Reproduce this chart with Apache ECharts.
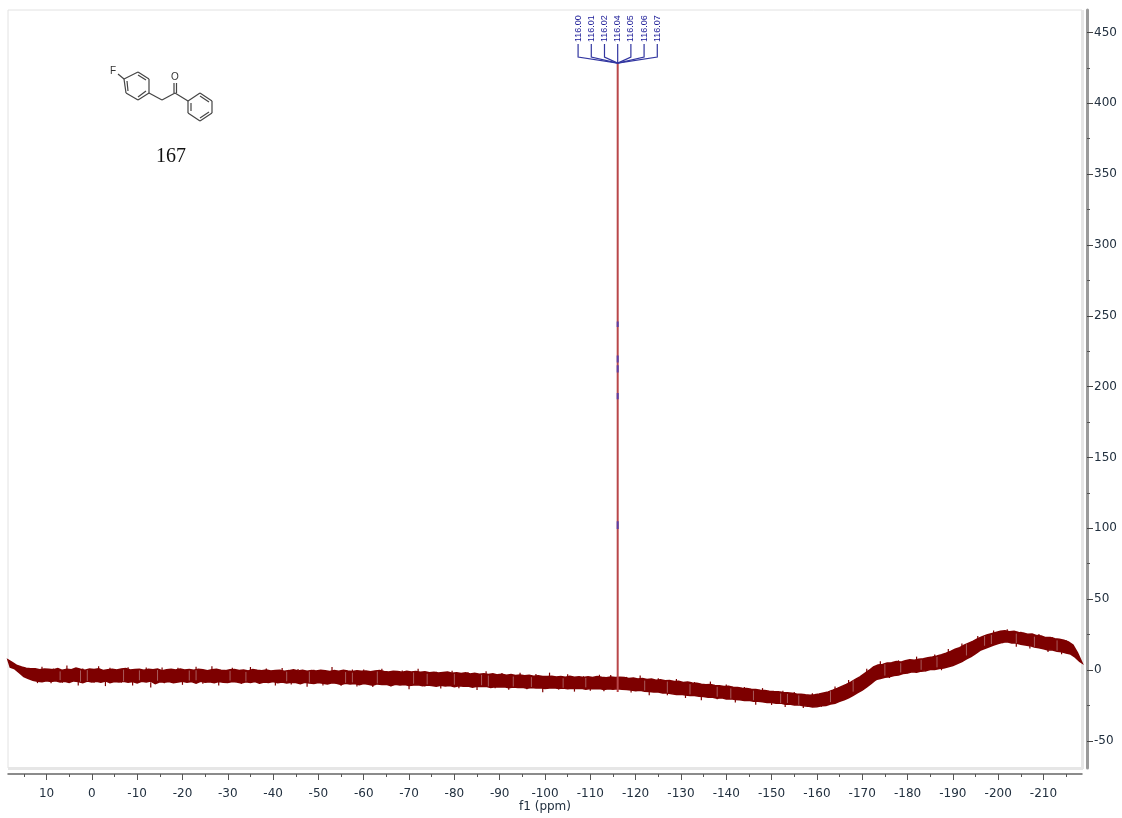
<!DOCTYPE html>
<html>
<head>
<meta charset="utf-8">
<style>html,body{margin:0;padding:0;background:#fff}#c{width:1122px;height:818px}</style>
<script src="https://cdn.jsdelivr.net/npm/echarts@6/dist/echarts.min.js"></script>
</head>
<body>
<div id="c"></div>
<script>
const ppmMax = 18.5, ppmMin = -218.5, intensityMax = 465.8, intensityMin = -69.2;
const xMajorTicks = [10,0,-10,-20,-30,-40,-50,-60,-70,-80,-90,-100,-110,-120,-130,-140,-150,-160,-170,-180,-190,-200,-210];
const xMinorTicks = [15,5,-5,-15,-25,-35,-45,-55,-65,-75,-85,-95,-105,-115,-125,-135,-145,-155,-165,-175,-185,-195,-205,-215];
const yMajorTicks = [-50,0,50,100,150,200,250,300,350,400,450];
const yMinorTicks = [-25,25,75,125,175,225,275,325,375,425];

// Upper edge of the noise band, one reading per ppm starting at 18.5 ppm
const bandTop = [
7.0,5.2,3.1,2.0,1.2,0.8,0.9,0.2,0.7,0.4,
0.1,0.9,-0.3,0.5,0.2,1.3,0.4,-0.2,0.6,0.3,0.8,-0.4,0.2,0.5,0.0,0.6,0.9,-0.1,0.3,0.4,
-0.2,0.5,0.1,0.7,-0.5,0.2,0.4,-0.1,0.6,0.0,0.3,-0.3,0.5,0.1,-0.6,0.2,0.4,-0.2,-0.5,0.1,
0.3,-0.4,-0.1,-0.7,0.2,-0.3,-0.6,0.0,-0.8,-0.4,
-0.2,-0.9,-0.5,0.1,-0.7,-0.3,-1.0,-0.4,-0.8,-0.2,-0.6,-1.1,-0.5,-0.9,-0.3,-0.8,-1.2,-0.6,-1.0,-0.7,
-1.3,-0.8,-0.4,-1.1,-1.5,-0.9,-1.2,-1.6,-1.0,-1.4,
-1.1,-1.7,-1.3,-2.0,-1.6,-2.2,-1.8,-1.4,-2.3,-2.0,-2.6,-2.1,-2.9,-2.4,-3.0,-2.7,-3.2,-2.8,-3.5,-3.1,
-3.7,-3.3,-3.9,-3.6,-4.2,-3.8,-4.4,-4.1,-4.7,-4.6,
-4.4,-5.0,-4.7,-5.2,-4.5,-5.1,-4.8,-5.4,-4.9,-5.3,-4.6,-5.2,-5.5,-5.0,-5.4,-5.2,
-5.4,-6.0,-5.7,-6.4,-6.0,-6.8,-6.5,-7.3,-7.0,-7.7,-7.5,-8.2,-8.0,-8.8,-8.6,-9.3,-9.5,-10.1,-10.4,
-10.3,-11.0,-11.2,-11.7,-11.6,-12.3,-12.5,-13.0,-13.1,-13.7,-13.9,-14.3,-14.6,-15.0,-15.3,
-15.4,-15.9,-16.2,-16.5,-17.0,-17.2,-17.6,-17.9,
-17.5,-17.0,-16.2,-15.5,-14.3,-13.0,-11.6,
-10.2,-8.6,-6.7,-4.9,-2.7,-0.4,2.2,
3.4,3.9,4.8,5.0,5.9,5.5,6.4,7.1,
6.8,7.5,7.9,8.6,9.1,9.9,10.8,11.8,
13.1,14.6,15.7,17.4,18.9,20.3,22.1,
23.4,24.6,25.5,26.4,27.3,
27.6,27.0,27.3,26.4,26.0,25.1,25.4,24.2,23.9,22.8,
22.9,22.0,21.6,20.9,19.7,
17.5,12.0,5.0];

// Lower edge of the noise band, read half a ppm after each upper reading
const bandBottom = [
2.0,0.8,-1.9,-4.6,-6.1,-7.2,-7.9,-8.3,-7.6,-8.1,
-7.6,-8.4,-7.9,-8.8,-7.7,-8.2,-9.0,-7.8,-8.5,-8.0,-8.6,-7.7,-8.9,-8.1,-8.4,-7.9,-8.7,-8.2,-9.2,-8.0,
-8.5,-7.8,-9.6,-8.3,-8.7,-8.1,-8.9,-8.4,-7.9,-8.6,-8.2,-9.3,-8.0,-8.7,-8.3,-9.0,-8.1,-8.6,-8.9,-8.2,
-8.5,-9.1,-8.3,-8.8,-8.1,-9.4,-8.5,-8.8,-8.2,-8.9,
-8.4,-9.2,-8.7,-8.9,-9.7,-8.6,-9.1,-9.5,-8.9,-9.3,-9.9,-9.0,-9.4,-10.2,-9.3,-9.8,-9.5,-10.4,-9.6,-10.0,
-10.7,-9.8,-10.2,-10.0,-11.0,-10.1,-10.5,-10.3,-10.9,-10.6,
-10.4,-11.1,-10.6,-10.9,-11.5,-10.8,-11.2,-11.0,-11.8,-11.1,-11.5,-11.3,-12.1,-11.4,-11.7,-11.5,-12.3,-11.8,-12.0,-11.9,
-12.6,-12.0,-12.4,-12.2,-12.9,-12.3,-12.7,-12.5,-13.1,-12.7,
-12.5,-13.0,-12.7,-13.3,-12.8,-13.1,-12.9,-13.6,-13.0,-13.3,-13.1,-13.8,-13.2,-13.5,-13.3,-13.6,
-13.8,-14.1,-14.7,-14.3,-15.0,-15.2,-15.6,-15.5,-16.2,-16.3,-16.8,-17.2,-17.1,-17.7,-18.0,-18.0,-18.6,-18.7,-19.2,
-19.2,-19.9,-19.6,-20.4,-20.3,-20.9,-21.0,-21.5,-21.4,-22.0,-22.1,-22.4,-22.9,-23.0,-23.5,
-23.3,-24.1,-24.0,-24.7,-24.6,-25.3,-25.5,-26.1,
-26.0,-25.2,-25.0,-24.0,-23.4,-22.1,-21.0,
-19.6,-17.9,-16.0,-14.2,-12.0,-9.5,-6.8,
-6.0,-5.2,-4.7,-3.9,-3.6,-2.5,-2.2,-1.3,
-1.6,-0.8,-0.6,0.3,0.4,1.1,1.4,2.2,
3.1,4.6,6.0,7.8,9.5,11.6,13.9,
15.1,16.4,17.6,18.7,19.6,
19.9,19.0,19.1,18.2,17.6,17.2,16.3,15.7,15.0,14.2,
14.1,13.2,12.9,12.0,11.2,
9.0,6.0];

// Spikes past the band edges: [ppm, height above (or below) the edge]
const topSpikes = [[11,1.5],[8.5,1],[5.5,2.6],[2,1.2],[-1.5,1.8],[-4,1],[-8,2],[-12,1.3],[-15.5,2.2],[-19,1],[-23,1.7],[-26.5,2.4],[-31,1.2],[-35,1.9],[-38.5,1],[-42,2.3],[-45.5,1.4],[-49,1],[-53,2.6],[-57.5,1.5],[-60,1.1],[-64,2],[-68.5,1.3],[-72,2.5],[-76,1],[-79.5,1.8],[-83,1.2],[-87,2.3],[-90.5,1],[-94.5,1.7],[-98,1.2],[-101,2.5],[-105,1.4],[-108.5,1],[-112,1.9],[-114.5,1.4],[-118,1.1],[-121,2],[-125,1.2],[-129,1.6],[-133,1],[-136.5,2.1],[-140,1.3],[-144,1],[-148,1.8],[-152.5,1.2],[-155,1.5],[-159,1],[-164,1.3],[-167,1.5],[-171,1.2],[-174,2.2],[-178,1.3],[-182,1.9],[-186,1],[-189,1.7],[-192,1.2],[-195.5,1.8],[-199,1.4],[-202,1.7],[-205,1],[-209,1.4],[-212,1.1],[-215,1.3]];
const bottomSpikes = [[12,1],[9,1.7],[6.5,1.2],[3,2],[-0.5,1],[-3,2.5],[-6.5,1.2],[-9,1.8],[-13,2.8],[-16,1.3],[-20,1.9],[-24.5,1],[-28,2.4],[-33,1.5],[-37,1.1],[-40.5,2],[-44,1.3],[-47.5,2.7],[-51,1],[-55,1.8],[-58.5,1.2],[-62,2.3],[-66,1.4],[-70,3],[-73.5,1],[-77,1.9],[-81,1.4],[-85,2.4],[-89,1],[-92,2],[-96,1.3],[-99.5,2.6],[-103,1.1],[-106.5,2.2],[-110,1.3],[-113,1.8],[-119,1.2],[-123,2.3],[-127,1],[-131,1.8],[-134.5,2.7],[-138,1.1],[-142,1.9],[-146.5,2.4],[-150,1.2],[-153,2.1],[-157,1.3],[-161,1],[-165,1.6],[-169,1.1],[-173,1.4],[-176,1.8],[-180,1],[-184,1.3],[-187.5,1.6],[-191,1],[-194,1.3],[-198,1.4],[-201,1],[-204,1.8],[-207,1.2],[-211,1.5],[-214,1]];

// Pale streaks visible inside the band (ppm)
const bandStreaks = [7,2.5,1,-7,-10.5,-14.5,-21.5,-23,-30.5,-34,-43,-48,-56,-57.5,-63,-71,-74,-80,-86,-87.5,-93,-97,-104,-109,-122,-127,-132,-138,-141,-146,-152,-153.5,-156,-163,-168,-175,-178.5,-183,-186.5,-193,-197,-198.5,-204,-208,-213];

const peakPpm = -116.04;
const peakFoot = -15.5;
const peakTop = 429;
const peakLabels = ['116.00','116.01','116.02','116.04','116.05','116.06','116.07'];
const blueMarks = [[242,246],[217,222],[210,215],[191,195.5],[99.5,105]];

const blueData = [];
blueMarks.forEach(m => {
  blueData.push([peakPpm, m[0]], [peakPpm, m[1]], [peakPpm, null]);
});
const bandOutline = [];
bandTop.forEach((t, i) => bandOutline.push([ppmMax - i, t]));
for (let i = bandBottom.length - 1; i >= 0; i--) bandOutline.push([ppmMax - i - 0.5, bandBottom[i]]);

// Structure drawing of compound 167 (page pixels, not data)
const bonds = [
 [118,74,124,79],[124,79,138,72],[138,72,149,79],[149,79,149,93],[149,93,138,100],[138,100,126,93],[126,93,124,79],
 [138,75,146,80],[146,91,138,97],[128,91,127,81],
 [149,93,162,100],[162,100,175,93],[174,93,174,83],[176.5,93,176.5,83],
 [175,93,188,101],[188,101,200,93],[200,93,212,101],[212,101,212,113],[212,113,200,121],[200,121,188,113],[188,113,188,101],
 [200,96,209,102],[209,112,200,118],[191,111,191,103]
];
const moleculeGraphics = bonds.map(b => ({
  type:'line', silent:true, z:10,
  shape:{x1:b[0],y1:b[1],x2:b[2],y2:b[3]},
  style:{stroke:'#444',lineWidth:1.2}
}));
moleculeGraphics.push(
 {type:'text',x:113,y:71,z:10,style:{text:'F',font:'10px "Liberation Sans"',fill:'#333',align:'center',verticalAlign:'middle'}},
 {type:'text',x:175,y:77,z:10,style:{text:'O',font:'10px "Liberation Sans"',fill:'#333',align:'center',verticalAlign:'middle'}},
 {type:'text',x:171,y:157,z:10,style:{text:'167',font:'20px "Liberation Serif"',fill:'#111',align:'center',verticalAlign:'middle'}}
);
const frameGraphics = [
 {type:'rect',z:1,silent:true,shape:{x:8,y:767,width:1075,height:3},style:{fill:'#e6e6e6'}},
 {type:'rect',z:1,silent:true,shape:{x:1081,y:10,width:3,height:759},style:{fill:'#e6e6e6'}}
];

function spikeSeries(name, spikes, edge, sign){
  return {type:'custom',name,z:3,silent:true,data:spikes,
    renderItem(params,api){
      const ppm = api.value(0);
      const i = Math.min(Math.round(ppmMax - ppm), edge.length - 1);
      const a = api.coord([ppm, edge[i] - sign]);
      const b = api.coord([ppm, edge[i] + sign*api.value(1)]);
      return {type:'line',shape:{x1:a[0],y1:a[1],x2:b[0],y2:b[1]},
        style:{stroke:'#7d0000',lineWidth:1.2}};
    }};
}

const axisFont = {fontFamily:'"DejaVu Sans"',fontSize:12,color:'#22303f'};
const chart = echarts.init(document.getElementById('c'),null,{renderer:'canvas'});
chart.setOption({
  animation:false,
  backgroundColor:'#fff',
  grid:{left:8,right:40,top:10,bottom:50,show:true,borderColor:'#e2e2e2',borderWidth:1,backgroundColor:'#fff',outerBoundsMode:'none'},
  xAxis:[
   {type:'value',inverse:true,min:ppmMin,max:ppmMax,position:'bottom',offset:6,
    name:'f1 (ppm)',nameLocation:'middle',nameGap:27,nameMoveOverlap:false,
    nameTextStyle:{fontFamily:'"DejaVu Sans"',fontSize:12,color:'#22303f'},
    splitLine:{show:false},
    axisLine:{show:true,onZero:false,lineStyle:{color:'#666',width:1.5}},
    axisTick:{show:true,length:6,lineStyle:{color:'#555',width:1},customValues:xMajorTicks},
    axisLabel:Object.assign({margin:14,customValues:xMajorTicks},axisFont)},
   {type:'value',inverse:true,min:ppmMin,max:ppmMax,position:'bottom',offset:6,
    splitLine:{show:false},axisLine:{show:false,onZero:false},
    axisTick:{show:true,length:3,lineStyle:{color:'#555',width:1},customValues:xMinorTicks},
    axisLabel:{show:false}}
  ],
  yAxis:[
   {type:'value',min:intensityMin,max:intensityMax,position:'right',offset:5,
    splitLine:{show:false},
    axisLine:{show:true,onZero:false,lineStyle:{color:'#9a9a9a',width:3}},
    axisTick:{show:true,length:6,lineStyle:{color:'#444',width:1},customValues:yMajorTicks},
    axisLabel:Object.assign({margin:7,customValues:yMajorTicks},axisFont)},
   {type:'value',min:intensityMin,max:intensityMax,position:'right',offset:5,
    splitLine:{show:false},axisLine:{show:false,onZero:false},
    axisTick:{show:true,length:3,lineStyle:{color:'#555',width:1},customValues:yMinorTicks},
    axisLabel:{show:false}}
  ],
  graphic:frameGraphics.concat(moleculeGraphics),
  series:[
   {type:'custom',name:'spectrum band',z:3,silent:true,data:[[0]],
    renderItem(params,api){
      return {type:'polygon',shape:{points:bandOutline.map(p=>api.coord(p))},
        style:{fill:'#7d0000',stroke:'#7d0000',lineWidth:1.6}};
    }},
   spikeSeries('top spikes',topSpikes,bandTop,1),
   spikeSeries('bottom spikes',bottomSpikes,bandBottom,-1),
   {type:'custom',name:'band streaks',z:3.5,silent:true,data:bandStreaks.map(p=>[p]),
    renderItem(params,api){
      const ppm = api.value(0);
      const i = Math.min(Math.round(ppmMax - ppm), bandBottom.length - 1);
      const a = api.coord([ppm,bandTop[i]]), b = api.coord([ppm,bandBottom[i]]);
      return {type:'line',shape:{x1:a[0],y1:a[1]+1,x2:b[0],y2:b[1]-1},
        style:{stroke:'#a85a5a',lineWidth:1}};
    }},
   {type:'line',name:'peak',data:[[peakPpm,peakFoot],[peakPpm,peakTop]],showSymbol:false,symbol:'none',
    lineStyle:{color:'#b9474a',width:2},z:4},
   {type:'line',name:'integral marks',data:blueData,showSymbol:false,symbol:'none',connectNulls:false,
    lineStyle:{color:'#5a3fa6',width:2},z:5},
   {type:'custom',name:'peak labels',z:6,clip:false,silent:true,
    data:peakLabels.map((t,i)=>[i]),
    renderItem(params,api){
      const i = api.value(0);
      const p = api.coord([peakPpm,peakTop]);
      const fx = p[0] + (i-3)*13.2;
      const lineStyle = {stroke:'#3236a0',lineWidth:1.2,fill:'none'};
      return {type:'group',children:[
        {type:'polyline',shape:{points:[[fx,44],[fx,57],[p[0],p[1]+1]]},style:lineStyle},
        {type:'text',x:fx,y:42,rotation:Math.PI/2,
         style:{text:peakLabels[i],font:'9px "Liberation Sans"',fill:'#20209a',align:'left',verticalAlign:'middle'}}
      ]};
    }}
  ]
});
</script>
</body>
</html>
